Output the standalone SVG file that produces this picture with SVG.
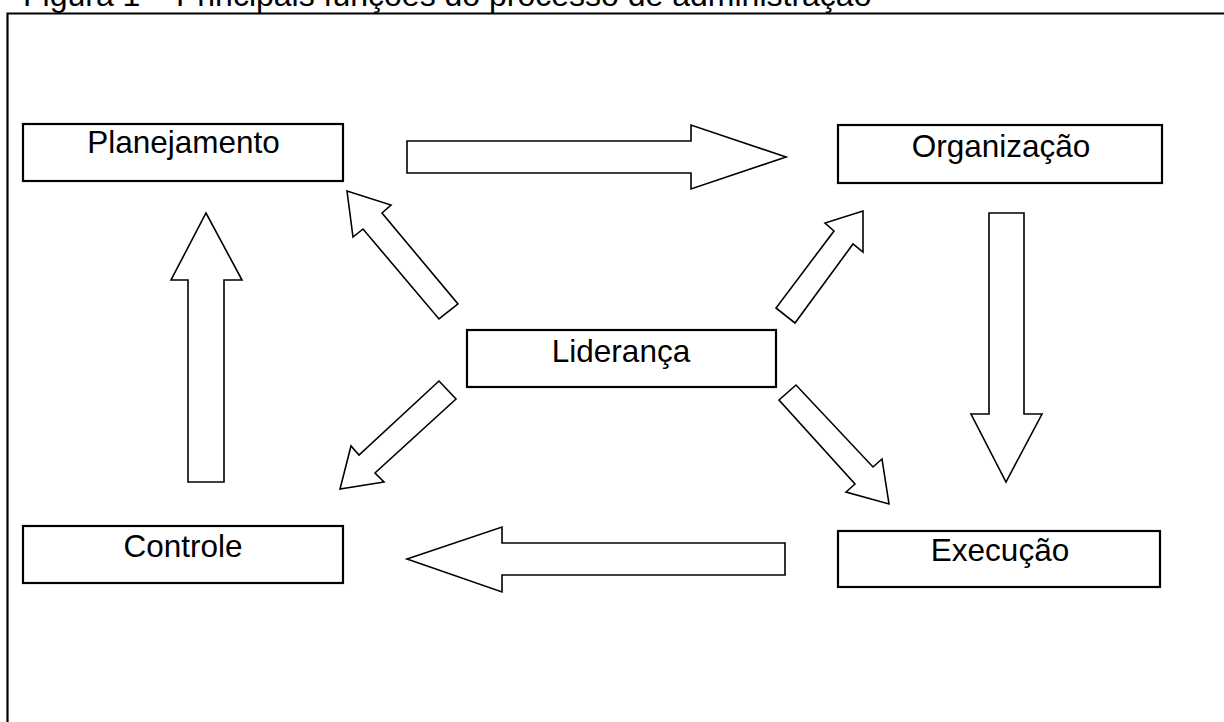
<svg xmlns="http://www.w3.org/2000/svg" width="1224" height="722" viewBox="0 0 1224 722">
<style>
.box{fill:#fff;stroke:#000;stroke-width:2.2}
.arr{fill:#fff;stroke:#000;stroke-width:1.6;stroke-linejoin:miter}
.lbl{font-family:"Liberation Sans",Arial,sans-serif;font-size:31.5px;fill:#000;text-anchor:middle}
.title{font-family:"Liberation Sans",Arial,sans-serif;font-size:32px;fill:#000}
</style>
<rect width="1224" height="722" fill="#fff"/>
<text class="title" x="23" y="6">Figura 1 – Principais funções do processo de administração</text>
<path d="M7.5,722 V13.5 H1224" fill="none" stroke="#000" stroke-width="2.2"/>
<g id="connectors">
<polygon class="arr" points="407,141 691,141 691,125 786,157 691,189 691,173 407,173"/>
<polygon class="arr" points="785,543 502,543 502,527 407,559 502,592 502,575 785,575"/>
<polygon class="arr" points="188,482 188,280 171,280 206,213 242,280 224,280 224,482"/>
<polygon class="arr" points="989,213 1024,213 1024,414 1042,414 1006,482 971,414 989,414"/>
<polygon class="arr" points="863,211 825,223 834,231 776,308 795,323 853,244 863,252"/>
<polygon class="arr" points="779,400 796,385 873,467 882,459 889,504 846,492 855,484"/>
<polygon class="arr" points="347,191 391,205 382,213 458,304 439,319 363,229 353,237"/>
<polygon class="arr" points="439,381 456,399 375,473 384,482 340,489 351,446 359,455"/>
</g>
<g id="planejamento">
<rect class="box" x="23" y="124" width="320" height="57"/>
<text class="lbl" x="183.5" y="153">Planejamento</text>
</g>
<g id="organizacao">
<rect class="box" x="838" y="125" width="324" height="58"/>
<text class="lbl" x="1001" y="157">Organização</text>
</g>
<g id="lideranca">
<rect class="box" x="467" y="330" width="309" height="57"/>
<text class="lbl" x="621" y="362">Liderança</text>
</g>
<g id="controle">
<rect class="box" x="23" y="526" width="320" height="57"/>
<text class="lbl" x="183" y="557">Controle</text>
</g>
<g id="execucao">
<rect class="box" x="838" y="531" width="322" height="56"/>
<text class="lbl" x="1000" y="561">Execução</text>
</g>
</svg>
